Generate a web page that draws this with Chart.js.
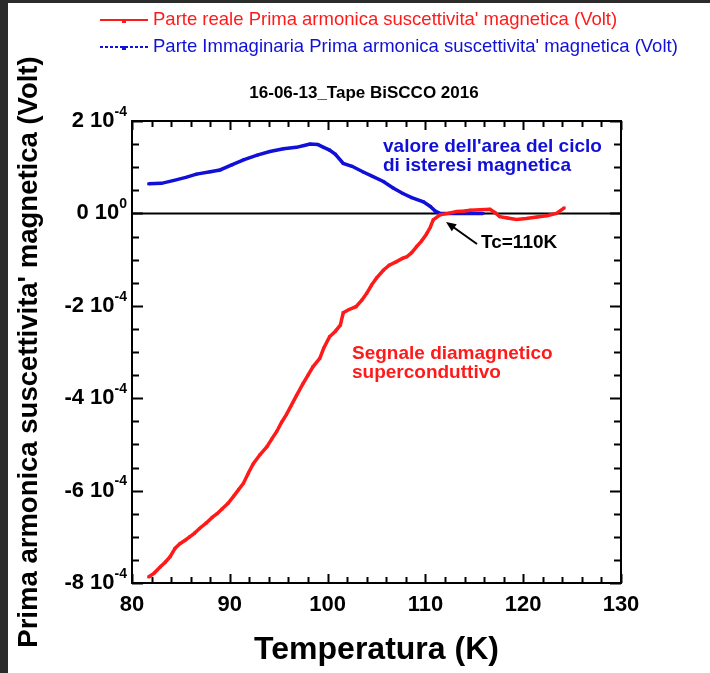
<!DOCTYPE html>
<html>
<head>
<meta charset="utf-8">
<script src="https://cdn.jsdelivr.net/npm/chart.js@4"></script>
<style>
  html, body { margin: 0; padding: 0; background: #fff; }
  #wrap { position: relative; width: 710px; height: 673px; }
</style>
</head>
<body>
<div id="wrap"><canvas id="myChart" width="710" height="673"></canvas></div>
<script>
// Data, values in units of 1e-4 Volt
var tempReal = [81.7, 82.3, 82.9, 83.4, 83.9, 84.4, 84.9, 85.4, 85.9, 86.4, 86.9, 87.6, 88.2, 88.7, 89.2, 89.8,
  90.4, 90.9, 91.4, 91.9, 92.4, 93.1, 93.8, 94.3, 94.8, 95.3, 95.8, 96.3, 96.8, 97.5, 98.0, 98.5, 99.2,
  99.6, 100.2, 100.8, 101.3, 101.6, 102.2, 102.9, 103.5, 104.0, 104.5, 105.0, 105.7, 106.3, 107.0, 107.7,
  108.1, 108.6, 109.1, 109.6, 110.1, 110.5, 110.8, 111.5, 112.3, 113.2, 114.0, 114.6, 115.6, 116.6,
  117.1, 117.6, 118.4, 119.3, 120.3, 121.4, 122.4, 123.4, 124.2];
var realPart = [-7.87, -7.78, -7.65, -7.55, -7.43, -7.25, -7.15, -7.08, -7.00, -6.92, -6.82, -6.70, -6.58, -6.50, -6.40, -6.28,
  -6.12, -5.98, -5.84, -5.62, -5.42, -5.22, -5.05, -4.88, -4.72, -4.52, -4.35, -4.15, -3.95, -3.68, -3.50, -3.32, -3.14,
  -2.92, -2.67, -2.55, -2.42, -2.15, -2.08, -2.02, -1.88, -1.73, -1.55, -1.40, -1.23, -1.12, -1.05, -0.97,
  -0.94, -0.85, -0.72, -0.60, -0.45, -0.30, -0.14, -0.03, 0.00, 0.04, 0.05, 0.07, 0.08, 0.09,
  0.02, -0.07, -0.10, -0.13, -0.11, -0.08, -0.05, 0.00, 0.12];

var tempImag = [81.7, 83.0, 84.2, 85.5, 86.6, 88.0, 89.0, 90.2, 91.4, 92.8, 94.1, 95.5, 96.8, 97.6, 98.2, 99.0,
  99.6, 100.2, 100.8, 101.6, 102.5, 103.7, 104.6, 105.7, 106.7, 107.7, 108.6, 109.8, 110.5, 111.0, 111.5, 113.0, 115.9];
var imagPart = [0.64, 0.65, 0.71, 0.78, 0.85, 0.90, 0.94, 1.05, 1.16, 1.26, 1.34, 1.40, 1.43, 1.47, 1.50, 1.49,
  1.43, 1.37, 1.28, 1.08, 1.02, 0.89, 0.80, 0.69, 0.55, 0.43, 0.34, 0.25, 0.15, 0.05, 0.00, 0.00, 0.00];

var xTickValues = [80, 90, 100, 110, 120, 130];
var yTickValues = [2e-4, 0, -2e-4, -4e-4, -6e-4, -8e-4];
var yTickLabels = [["2 10", "-4"], ["0 10", "0"], ["-2 10", "-4"], ["-4 10", "-4"], ["-6 10", "-4"], ["-8 10", "-4"]];

var seriesNames = ["Parte reale Prima armonica suscettivita' magnetica (Volt)",
  "Parte Immaginaria Prima armonica suscettivita' magnetica (Volt)"];
var chartTitle = "16-06-13_Tape BiSCCO 2016";
var xTitle = "Temperatura (K)";
var yTitle = "Prima armonica suscettivita' magnetica (Volt)";

var RED = "#ff1a1a";
var BLUE = "#1010d8";
var FONT = "'Liberation Sans', Arial, Helvetica, sans-serif";

function toPoints(xs, ys) {
  return xs.map(function (x, i) { return { x: x, y: ys[i] * 1e-4 }; });
}

// zero line under the curves
var zeroLine = {
  id: "zeroLine",
  beforeDatasetsDraw: function (chart) {
    var c = chart.ctx, a = chart.chartArea, y = chart.scales.y.getPixelForValue(0);
    c.save();
    c.strokeStyle = "#000";
    c.lineWidth = 2;
    c.beginPath();
    c.moveTo(a.left, y);
    c.lineTo(a.right, y);
    c.stroke();
    c.restore();
  }
};

// frame, inward ticks, tick labels, titles, legend and notes
var decorations = {
  id: "decorations",
  beforeDraw: function (chart) {
    var c = chart.ctx;
    c.save();
    c.fillStyle = "#fff";
    c.fillRect(0, 0, chart.width, chart.height);
    c.fillStyle = "#2b2b2b";
    c.fillRect(0, 0, 8, chart.height);
    c.fillRect(0, 0, chart.width, 3);
    c.restore();
  },
  afterDraw: function (chart) {
    var c = chart.ctx, a = chart.chartArea;
    var xs = chart.scales.x, ys = chart.scales.y;
    c.save();
    c.strokeStyle = "#000";
    c.lineWidth = 2;
    c.strokeRect(a.left, a.top, a.right - a.left, a.bottom - a.top);

    // x ticks every 2 K, top and bottom
    c.beginPath();
    for (var t = 80; t <= 130; t += 2) {
      var px = Math.round(xs.getPixelForValue(t)) + 0.5;
      var len = (t % 10 === 0) ? 9 : 6;
      c.moveTo(px, a.bottom); c.lineTo(px, a.bottom - len);
      c.moveTo(px, a.top); c.lineTo(px, a.top + len);
    }
    // y ticks every 0.5e-4, left and right
    for (var k = -16; k <= 4; k++) {
      var py = Math.round(ys.getPixelForValue(k * 0.5e-4)) + 0.5;
      var ylen = (k % 4 === 0) ? 11 : 7;
      c.moveTo(a.left, py); c.lineTo(a.left + ylen, py);
      c.moveTo(a.right, py); c.lineTo(a.right - ylen, py);
    }
    c.stroke();

    // x tick labels
    c.fillStyle = "#000";
    c.font = "bold 22px " + FONT;
    c.textAlign = "center";
    c.textBaseline = "middle";
    xTickValues.forEach(function (v) {
      c.fillText(String(v), xs.getPixelForValue(v), a.bottom + 22);
    });

    // y tick labels with superscript exponent
    yTickValues.forEach(function (v, i) {
      var py = ys.getPixelForValue(v);
      var right = a.left - 5;
      c.font = "bold 14px " + FONT;
      var ew = c.measureText(yTickLabels[i][1]).width;
      c.textAlign = "left";
      c.fillText(yTickLabels[i][1], right - ew, py - 9);
      c.font = "bold 22px " + FONT;
      c.textAlign = "right";
      c.fillText(yTickLabels[i][0], right - ew, py);
    });

    // axis titles
    c.font = "bold 32px " + FONT;
    c.textAlign = "center";
    c.fillText(xTitle, (a.left + a.right) / 2, 650);
    c.save();
    c.translate(29, (a.top + a.bottom) / 2);
    c.rotate(-Math.PI / 2);
    c.font = "bold 27.5px " + FONT;
    c.fillText(yTitle, 0, 0);
    c.restore();

    // chart title
    c.font = "bold 17px " + FONT;
    c.fillText(chartTitle, 364, 93);

    // legend
    var items = [{ y: 20, color: RED, dash: [] }, { y: 47, color: BLUE, dash: [3, 2] }];
    items.forEach(function (it, i) {
      c.strokeStyle = it.color;
      c.fillStyle = it.color;
      c.lineWidth = 2;
      c.setLineDash(it.dash);
      c.beginPath();
      c.moveTo(100, it.y); c.lineTo(148, it.y);
      c.stroke();
      c.setLineDash([]);
      c.fillRect(122, it.y - 1, 4, 4);
      c.font = "18.5px " + FONT;
      c.textAlign = "left";
      c.fillText(seriesNames[i], 153, it.y);
    });

    // notes
    c.font = "bold 19px " + FONT;
    c.fillStyle = BLUE;
    c.fillText("valore dell'area del ciclo", 383, 147);
    c.fillText("di isteresi magnetica", 383, 166);
    c.fillStyle = RED;
    c.fillText("Segnale diamagnetico", 352, 354);
    c.fillText("superconduttivo", 352, 373);
    c.fillStyle = "#000";
    c.fillText("Tc=110K", 481, 243);

    // arrow to Tc
    var x0 = 477, y0 = 244, x1 = 446, y1 = 222;
    c.strokeStyle = "#000";
    c.lineWidth = 2;
    c.beginPath();
    c.moveTo(x0, y0); c.lineTo(x1 + 5, y1 + 3.5);
    c.stroke();
    var ang = Math.atan2(y1 - y0, x1 - x0);
    c.beginPath();
    c.moveTo(x1, y1);
    c.lineTo(x1 - 11 * Math.cos(ang - 0.4), y1 - 11 * Math.sin(ang - 0.4));
    c.lineTo(x1 - 11 * Math.cos(ang + 0.4), y1 - 11 * Math.sin(ang + 0.4));
    c.closePath();
    c.fill();
    c.restore();
  }
};

var ctx = document.getElementById("myChart").getContext("2d");

var myChart = new Chart(ctx, {
  type: "scatter",
  data: {
    datasets: [
      {
        label: seriesNames[0],
        data: toPoints(tempReal, realPart),
        showLine: true,
        borderColor: RED,
        backgroundColor: RED,
        borderWidth: 3.5,
        pointStyle: "rect",
        pointRadius: 2,
        pointBorderWidth: 0,
        order: 0
      },
      {
        label: seriesNames[1],
        data: toPoints(tempImag, imagPart),
        showLine: true,
        borderColor: BLUE,
        backgroundColor: BLUE,
        borderWidth: 3.5,
        pointStyle: "rect",
        pointRadius: 2,
        pointBorderWidth: 0,
        order: 1
      }
    ]
  },
  options: {
    responsive: false,
    animation: false,
    layout: { padding: { left: 132, right: 89, top: 121, bottom: 90 } },
    plugins: {
      legend: { display: false },
      title: { display: false },
      tooltip: { enabled: false }
    },
    scales: {
      x: {
        type: "linear",
        min: 80,
        max: 130,
        grid: { display: false, drawTicks: false },
        border: { display: false },
        ticks: { display: false }
      },
      y: {
        type: "linear",
        min: -8e-4,
        max: 2e-4,
        grid: { display: false, drawTicks: false },
        border: { display: false },
        ticks: { display: false }
      }
    }
  },
  plugins: [zeroLine, decorations]
});
</script>
</body>
</html>
